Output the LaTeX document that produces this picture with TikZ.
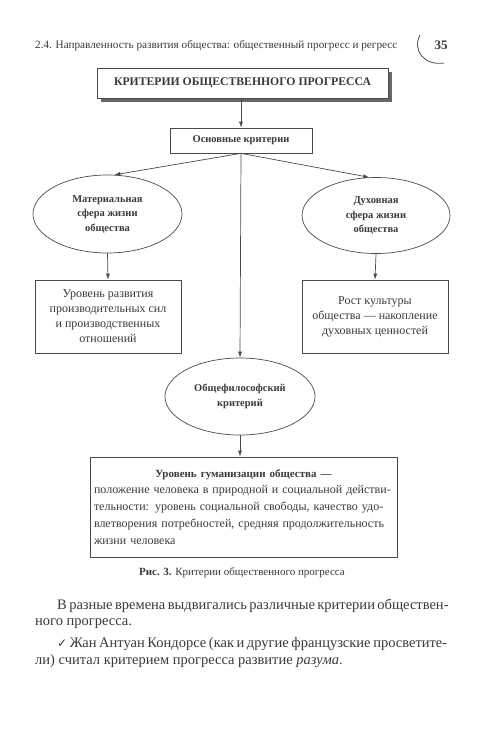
\documentclass[tikz,border=0pt]{standalone}
\usepackage{fontspec}
\setmainfont{Liberation Serif}
\newfontfamily\symfont{DejaVu Sans}
\usetikzlibrary{shapes.geometric,shadows,arrows.meta}
\definecolor{ink}{HTML}{3A3A3A}
\definecolor{edge}{HTML}{4A4A4A}
\begin{document}
\begin{tikzpicture}[x=1pt,y=-1pt,
  every node/.style={text=ink},
  box/.style={draw=edge, line width=0.7pt, rectangle, inner sep=0pt, align=center, fill=white},
  oval/.style={draw=edge, line width=0.7pt, ellipse, inner sep=0pt, align=center},
  arr/.style={draw=edge, line width=0.7pt, -{Latex[length=6pt,width=4pt]}},
  plain/.style={draw=edge, line width=0.7pt},
  boxfont/.style={font=\fontsize{12}{15}\selectfont},
  ovalfont/.style={font=\bfseries\fontsize{10.5}{14.5}\selectfont},
  bodyline/.style={anchor=base west, inner sep=0pt, font=\fontsize{14.5}{16}\selectfont}]
\useasboundingbox[fill=white] (0,0) rectangle (500,736);

% header
\node[anchor=base west, inner sep=0pt, font=\fontsize{11.2}{13}\selectfont] (hdr) at (35,48)
  {2.4. Направленность развития общества: общественный прогресс и регресс};
\node[anchor=base, inner sep=0pt, font=\bfseries\fontsize{13}{15}\selectfont] (pg) at (441,49) {35};
\coordinate (arcA) at (420,35);
\coordinate (arcB) at (444,63);
\draw[plain, line width=0.8pt] (arcA) .. controls (412,50) and (424,66) .. (arcB);

% title
\node[box, line width=0.9pt, minimum width=291pt, minimum height=30pt,
  drop shadow={shadow xshift=4pt, shadow yshift=-4pt, opacity=1, fill=black!60},
  font=\bfseries\fontsize{11.7}{13}\selectfont] (title) at (242.5,83)
  {КРИТЕРИИ ОБЩЕСТВЕННОГО ПРОГРЕССА};

\node[box, minimum width=142pt, minimum height=25pt, font=\bfseries\fontsize{10.5}{13}\selectfont]
  (main) at (241,140.5) {Основные критерии};

\node[oval, ovalfont, minimum width=149pt, minimum height=78pt] (lell) at (107.5,214)
  {Материальная\\сфера жизни\\общества};
\node[oval, ovalfont, minimum width=148pt, minimum height=76pt] (rell) at (376,215.5)
  {Духовная\\сфера жизни\\общества};

\node[box, boxfont, minimum width=146pt, minimum height=73pt] (lbox) at (108,316.5)
  {Уровень развития\\производительных сил\\и производственных\\отношений};
\node[box, boxfont, minimum width=146pt, minimum height=73pt] (rbox) at (375,316.5)
  {Рост культуры\\общества — накопление\\духовных ценностей};

\node[oval, font=\bfseries\fontsize{10.5}{15}\selectfont, minimum width=150pt, minimum height=77pt]
  (cell) at (240,396.5) {Общефилософский\\критерий};

\node[box, minimum width=307pt, minimum height=100pt, align=left, text width=299pt,
  font=\fontsize{12}{17}\selectfont] (bbox) at (243.5,507)
  {\makebox[299pt]{\bfseries\fontsize{11}{13}\selectfont Уровень гуманизации общества —}\\[-1pt]
   \makebox[299pt][s]{положение человека в природной и социальной действи-}\\
   \makebox[299pt][s]{тельности: уровень социальной свободы, качество удо-}\\
   \makebox[299pt][s]{влетворения потребностей, средняя продолжительность}\\
   жизни человека};

\node[inner sep=0pt, font=\fontsize{11}{13}\selectfont] (cap) at (242,573)
  {\textbf{Рис. 3.} Критерии общественного прогресса};

% connectors
\draw[arr] (title.south -| main.north) -- (main.north);
\draw[arr] (main.south) -- (lell.80);
\draw[arr] (main.south) -- (rell.100);
\draw[arr] (main.south) -- (cell.north);
\draw[arr] (lell.south) -- (lbox.north);
\draw[arr] (rell.south) -- (rbox.north);
\draw[arr] (cell.south) -- (bbox.north -| cell.south);

% body text
\node[bodyline] (b1) at (35,609)
  {\makebox[412pt][s]{\hspace{22pt}В разные времена выдвигались различные критерии обществен-}};
\node[bodyline] (b2) at (35,625) {ного прогресса.};
\node[bodyline] (b3) at (35,647)
  {\makebox[412pt][s]{\hspace{22pt}{\symfont\fontsize{12}{12}\selectfont ✓}\ Жан Антуан Кондорсе (как и другие французские просветите-}};
\node[bodyline] (b4) at (35,664) {ли) считал критерием прогресса развитие \textit{разума}.};
\end{tikzpicture}
\end{document}
